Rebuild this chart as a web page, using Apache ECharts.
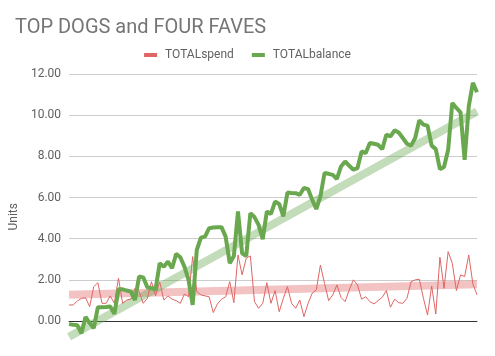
<!DOCTYPE html>
<html>
<head>
<meta charset="utf-8">
<script src="https://cdn.jsdelivr.net/npm/echarts@6/dist/echarts.min.js"></script>
<style>html,body{margin:0;padding:0;background:#fff}#c{width:495px;height:356px}</style>
</head>
<body>
<div id="c"></div>
<script>
const titleText = 'TOP DOGS and FOUR FAVES';
const seriesNames = ['TOTALspend', 'TOTALbalance'];
const yTicks = [0, 2, 4, 6, 8, 10, 12];

const totalSpend = [
  0.78, 0.78, 0.97, 1.1, 1.13, 0.7, 1.67, 1.86, 0.86, 0.86, 1.22, 0.86, 2.08, 0.86, 1.02, 1.06, 1.59, 1.43, 0.86, 1.1, 1.91, 1.22, 1.91, 1.02, 1.22,
  1.06, 0.99, 0.86, 1.31, 1.18, 3.13, 1.43, 1.27, 1.22, 1.18, 0.41, 0.83, 1.06, 1.18, 1.91, 0.89, 3.21, 2.24, 3.05, 3.16, 0.94, 0.62, 0.86, 1.86,
  0.86, 1.48, 0.45, 1.1, 1.67, 0.86, 0.62, 1.02, 0.21, 0.86, 1.35, 1.51, 2.72, 1.83, 0.99, 1.27, 1.75, 1.15, 0.94, 1.51, 2.0, 1.75, 1.06, 1.18, 0.94,
  0.83, 0.99, 1.15, 1.48, 0.67, 1.06, 0.89, 0.86, 1.1, 1.91, 2.0, 2.03, 1.1, 0.29, 1.7, 0.34, 3.1, 1.59, 3.37, 2.81, 1.48, 2.24, 2.16, 3.21, 1.8, 1.27
];

const totalBalance = [
  -0.15, -0.18, -0.2, -0.6, 0.2, -0.1, -0.35, 0.67, 0.67, 0.68,
  0.7, 0.35, 1.54, 1.54, 1.48, 1.43, 1.02, 2.16, 2.12, 1.64,
  1.59, 1.54, 2.81, 2.64, 2.89, 2.56, 3.26, 3.1, 2.64, 2.0,
  0.78, 3.45, 4.05, 4.1, 4.51, 4.54, 4.56, 4.56, 4.1, 2.81,
  3.16, 5.32, 3.29, 3.16, 5.24, 5.05, 4.67, 3.98, 5.32, 5.2,
  5.8, 5.69, 5.08, 6.24, 6.22, 6.21, 6.13, 6.46, 6.41, 5.89,
  5.44, 6.05, 7.19, 7.15, 7.1, 6.9, 7.51, 7.75, 7.54, 7.35,
  7.43, 8.24, 8.16, 8.65, 8.61, 8.56, 8.35, 9.05, 8.97, 9.26,
  9.16, 8.89, 8.61, 8.52, 8.89, 9.75, 9.54, 9.49, 8.52, 8.35,
  7.38, 7.48, 8.32, 10.59, 10.35, 10.14, 7.83, 10.43, 11.57, 11.11
];

// trendline start / end values
const spendTrend = [1.28, 1.78];
const balanceTrend = [-0.76, 10.18];

const categories = totalBalance.map((_, i) => String(i + 1));

function trendData(ends) {
  return categories.map((_, i) => i === 0 ? ends[0] : (i === categories.length - 1 ? ends[1] : null));
}

const chart = echarts.init(document.getElementById('c'), null, { renderer: 'canvas' });
chart.setOption({
  animation: false,
  backgroundColor: '#ffffff',
  textStyle: { fontFamily: 'Roboto' },
  title: {
    text: titleText, left: 10, top: 13,
    textStyle: { fontFamily: 'Roboto', fontSize: 20, fontWeight: 'normal', color: '#757575' }
  },
  legend: {
    data: seriesNames, top: 44, left: 'center', icon: 'rect', itemWidth: 13, itemHeight: 4, itemGap: 18,
    textStyle: { fontFamily: 'Roboto', fontSize: 12, color: '#616161', padding: [0, 0, 0, 3] }
  },
  grid: { left: 68, right: 18, top: 74, bottom: 14.4, containLabel: false },
  xAxis: {
    type: 'category', data: categories, boundaryGap: false,
    axisLabel: { show: false }, axisTick: { show: false },
    axisLine: { show: true, onZero: true, lineStyle: { color: '#333333', width: 1 } },
    splitLine: { show: false }
  },
  yAxis: {
    type: 'value', min: -1, max: 12,
    name: 'Units', nameLocation: 'middle', nameGap: 44,
    nameTextStyle: { fontFamily: 'Roboto', fontSize: 12, color: '#616161', padding: [0, 18, 0, 0] },
    axisLine: { show: false },
    axisTick: { show: false, customValues: yTicks },
    axisLabel: { customValues: yTicks, formatter: v => v.toFixed(2), fontFamily: 'Roboto', fontSize: 12, color: '#616161', margin: 8 },
    splitLine: { show: true, lineStyle: { color: '#cccccc', width: 1 } }
  },
  series: [
    { name: 'spendTrend', type: 'line', data: trendData(spendTrend), connectNulls: true, symbol: 'none',
      lineStyle: { color: '#e06666', opacity: 0.4, width: 8 }, silent: true, legendHoverLink: false },
    { name: 'balanceTrend', type: 'line', data: trendData(balanceTrend), connectNulls: true, symbol: 'none',
      lineStyle: { color: '#6aa84f', opacity: 0.4, width: 8 }, silent: true, legendHoverLink: false },
    { name: seriesNames[0], type: 'line', data: totalSpend, symbol: 'none', color: '#e06666',
      lineStyle: { color: '#e06666', width: 1 } },
    { name: seriesNames[1], type: 'line', data: totalBalance, symbol: 'none', color: '#6aa84f',
      lineStyle: { color: '#6aa84f', width: 4 } }
  ]
});
</script>
</body>
</html>
